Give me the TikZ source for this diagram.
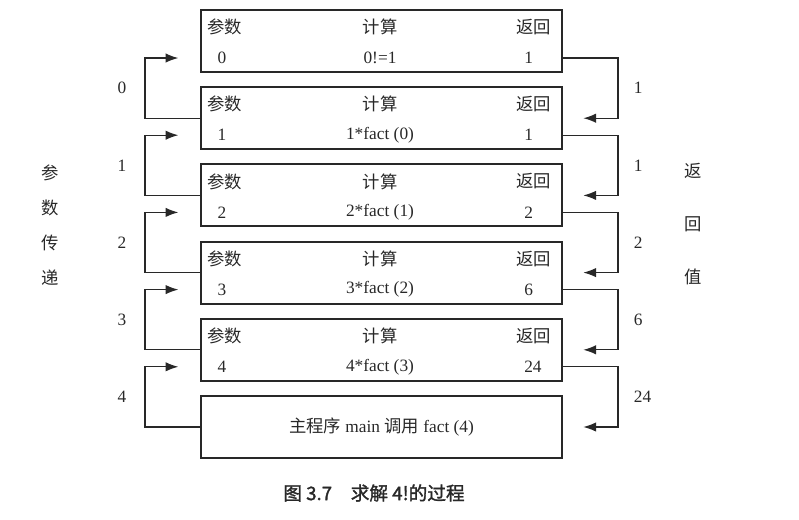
\documentclass[tikz,border=0pt]{standalone}
\usepackage{fontspec}
\setmainfont{Liberation Serif}
\newfontfamily\zhfont{Noto Sans CJK SC}
\newfontfamily\zhbold[FakeBold=1.6]{Noto Sans CJK SC}
\usetikzlibrary{arrows.meta, positioning, calc}
\definecolor{inkgray}{RGB}{40,40,40}

\begin{document}
\begin{tikzpicture}[x=0.75pt, y=-0.75pt, font=\fontsize{13}{15}\selectfont, text=inkgray,
  frame/.style={draw=inkgray, line width=1.5pt, minimum width=270.75pt, minimum height=46.5pt, outer sep=0pt, inner sep=0pt},
  conn/.style={draw=inkgray, line width=0.9pt, -{Latex[length=9.5pt, width=7pt]}},
  tag/.style={inner sep=0pt}]
  \useasboundingbox (0,0) rectangle (799,519);
  % main program at the bottom, the calls stacked above it
  \node[frame] (b6) at (381.5,427) {{\zhfont 主程序} main {\zhfont 调用} fact (4)};
  \foreach \i/\j/\p/\c/\r in {5/6/4/{4*fact (3)}/24, 4/5/3/{3*fact (2)}/6, 3/4/2/{2*fact (1)}/2,
                              2/3/1/{1*fact (0)}/1, 1/2/0/{0!=1}/1} {
    \node[frame, above=11.4pt of b\j] (b\i) {};
    \node[tag, anchor=west] (ph\i) at ($(b\i.north west)+(6,17)$) {\zhfont 参数};
    \node[tag] (pv\i) at ($(b\i.north west)+(21,48)$) {\p};
    \node[tag] (ch\i) at ($(b\i.north)+(-1.5,17)$) {\zhfont 计算};
    \node[tag] (cv\i) at ($(b\i.north)+(-1.5,48)$) {\c};
    \node[tag, anchor=east] (rh\i) at ($(b\i.north east)+(-11,17)$) {\zhfont 返回};
    \node[tag, anchor=west] (rv\i) at ($(b\i.north east)+(-38,48)$) {\r};
    % argument goes up on the left, result comes down on the right
    \draw[conn, shorten >=17pt] (b\j.west) -- ++(-56,0) |- node[tag, pos=0.25, left=13.5pt] (lp\i) {\p} (b\i.west |- pv\i);
    \draw[conn, shorten >=16pt] (b\i.east |- rv\i) -- ++(56,0) |- node[tag, pos=0.25, right=11.5pt] (lr\i) {\r} (b\j.east);
  }
  \node[align=center, font=\fontsize{13}{26.25}\selectfont\zhfont] (pass) at (50,225) {参\\数\\传\\递};
  \node[align=center, font=\fontsize{13}{40}\selectfont\zhfont] (back) at (693,224) {返\\回\\值};
  \node[font=\fontsize{14}{16}\selectfont\zhbold] (cap) at (374,493) {图 3.7\hspace{1em}求解 4!的过程};
\end{tikzpicture}
\end{document}
